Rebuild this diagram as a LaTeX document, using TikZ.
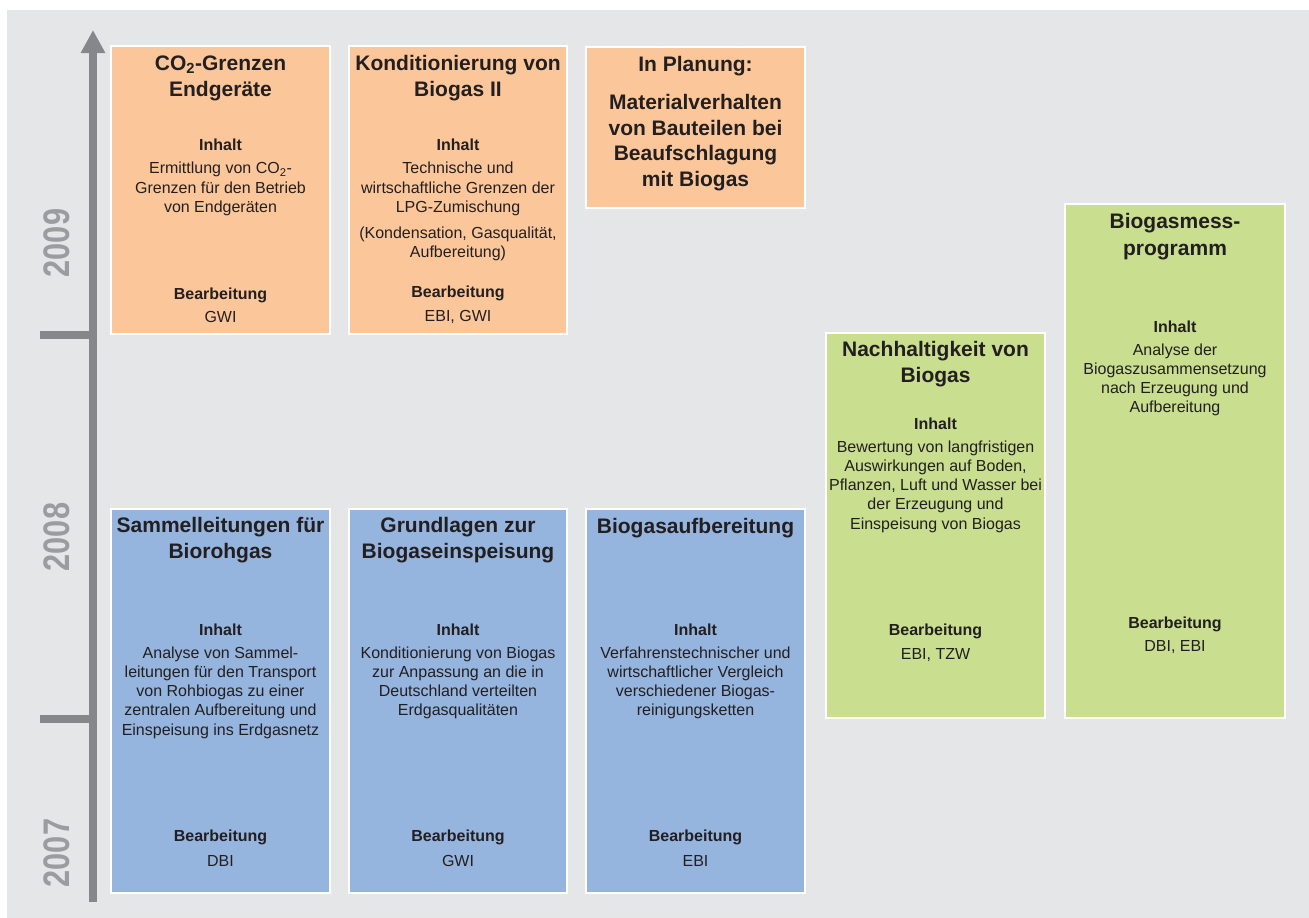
\documentclass[tikz,border=0pt]{standalone}
\usepackage{fontspec}
\setmainfont{Liberation Sans}
\usetikzlibrary{arrows.meta}
\definecolor{bg}{HTML}{E5E6E8}
\definecolor{peach}{HTML}{FBC79A}
\definecolor{skyb}{HTML}{95B4DE}
\definecolor{lgreen}{HTML}{C9DE8F}
\definecolor{axisgray}{HTML}{86878A}
\definecolor{yeargray}{HTML}{9B9C9F}
\definecolor{ink}{HTML}{231F20}
\begin{document}
\begin{tikzpicture}[x=1pt,y=-1pt,
  box/.style={draw=white, line width=2pt, inner sep=0pt, outer sep=0pt},
  ttl/.style={text=ink, align=center, inner sep=0pt, font=\fontsize{21}{26}\selectfont\bfseries},
  lbl/.style={text=ink, align=center, inner sep=0pt, font=\fontsize{16}{19.2}\selectfont\bfseries},
  txt/.style={text=ink, align=center, inner sep=0pt, font=\fontsize{16}{19.2}\selectfont},
  year/.style={text=yeargray, rotate=90, inner sep=0pt, font=\fontsize{37}{37}\selectfont\bfseries},
  tick/.style={draw=axisgray, line width=8pt}
]
\useasboundingbox (0,0) rectangle (1309,918);
\fill[bg] (7,10) rectangle (1309,918);

% axis
\coordinate (axb) at (93,902);
\coordinate (axt) at (93,30);
\draw[draw=axisgray, fill=axisgray, line width=8pt, -{Triangle[length=23pt,width=23pt]}] (axb) -- (axt);
\coordinate (t1a) at (40,334.7);
\coordinate (t1b) at (97,334.7);
\coordinate (t2a) at (40,719);
\coordinate (t2b) at (97,719);
\draw[tick] (t1a) -- (t1b);
\draw[tick] (t2a) -- (t2b);
\node[year] (y2009) at (57,243) {\scalebox{0.83}[1]{2009}};
\node[year] (y2008) at (57,537) {\scalebox{0.83}[1]{2008}};
\node[year] (y2007) at (57,853) {\scalebox{0.83}[1]{2007}};

% boxes
\node[box, fill=peach, minimum width=219pt, minimum height=288pt] (o1) at (220.5,190) {};
\node[box, fill=peach, minimum width=218pt, minimum height=288pt] (o2) at (458,190) {};
\node[box, fill=peach, minimum width=219pt, minimum height=161pt] (o3) at (695.5,127.5) {};
\node[box, fill=lgreen, minimum width=219pt, minimum height=385pt] (g4) at (935.5,525.5) {};
\node[box, fill=lgreen, minimum width=220pt, minimum height=514pt] (g5) at (1175,461) {};
\node[box, fill=skyb, minimum width=219pt, minimum height=384pt] (b1) at (220.5,701) {};
\node[box, fill=skyb, minimum width=218pt, minimum height=384pt] (b2) at (458,701) {};
\node[box, fill=skyb, minimum width=219pt, minimum height=384pt] (b3) at (695.5,701) {};

% box o1
\node[ttl] (o1t) at (220.5,78.5) {CO\textsubscript{2}-Grenzen\\Endgeräte};
\node[lbl] (o1i) at (220.5,145) {Inhalt};
\node[txt] (o1c) at (220.5,189) {Ermittlung von CO\textsubscript{2}-\\Grenzen für den Betrieb\\von Endgeräten};
\node[lbl] (o1b) at (220.5,295) {Bearbeitung};
\node[txt] (o1w) at (220.5,317) {GWI};

% box o2
\node[ttl] (o2t) at (458,78.5) {Konditionierung von\\Biogas II};
\node[lbl] (o2i) at (458,145) {Inhalt};
\node[txt] (o2c) at (458,189) {Technische und\\wirtschaftliche Grenzen der\\LPG-Zumischung};
\node[txt] (o2d) at (458,243.5) {(Kondensation, Gasqualität,\\Aufbereitung)};
\node[lbl] (o2b) at (458,293) {Bearbeitung};
\node[txt] (o2w) at (458,317) {EBI, GWI};

% box o3
\node[ttl] (o3t) at (695.5,66) {In Planung:};
\node[ttl, font=\fontsize{21}{25.7}\selectfont\bfseries] (o3c) at (695.5,142.5) {Materialverhalten\\von Bauteilen bei\\Beaufschlagung\\mit Biogas};

% box g4
\node[ttl] (g4t) at (935.5,364.5) {Nachhaltigkeit von\\Biogas};
\node[lbl] (g4i) at (935.5,424) {Inhalt};
\node[txt] (g4c) at (935.5,486.5) {Bewertung von langfristigen\\Auswirkungen auf Boden,\\Pflanzen, Luft und Wasser bei\\der Erzeugung und\\Einspeisung von Biogas};
\node[lbl] (g4b) at (935.5,631) {Bearbeitung};
\node[txt] (g4w) at (935.5,655) {EBI, TZW};

% box g5
\node[ttl, font=\fontsize{21}{27}\selectfont\bfseries] (g5t) at (1175,236.5) {Biogasmess-\\programm};
\node[lbl] (g5i) at (1175,327) {Inhalt};
\node[txt] (g5c) at (1175,380) {Analyse der\\Biogaszusammensetzung\\nach Erzeugung und\\Aufbereitung};
\node[lbl] (g5b) at (1175,624) {Bearbeitung};
\node[txt] (g5w) at (1175,647) {DBI, EBI};

% box b1
\node[ttl] (b1t) at (220.5,540.5) {Sammelleitungen für\\Biorohgas};
\node[lbl] (b1i) at (220.5,630) {Inhalt};
\node[txt] (b1c) at (220.5,692.5) {Analyse von Sammel-\\leitungen für den Transport\\von Rohbiogas zu einer\\zentralen Aufbereitung und\\Einspeisung ins Erdgasnetz};
\node[lbl] (b1b) at (220.5,837) {Bearbeitung};
\node[txt] (b1w) at (220.5,861) {DBI};

% box b2
\node[ttl] (b2t) at (458,540.5) {Grundlagen zur\\Biogaseinspeisung};
\node[lbl] (b2i) at (458,630) {Inhalt};
\node[txt] (b2c) at (458,683) {Konditionierung von Biogas\\zur Anpassung an die in\\Deutschland verteilten\\Erdgasqualitäten};
\node[lbl] (b2b) at (458,837) {Bearbeitung};
\node[txt] (b2w) at (458,861) {GWI};

% box b3
\node[ttl] (b3t) at (695.5,528) {Biogasaufbereitung};
\node[lbl] (b3i) at (695.5,630) {Inhalt};
\node[txt] (b3c) at (695.5,683) {Verfahrenstechnischer und\\wirtschaftlicher Vergleich\\verschiedener Biogas-\\reinigungsketten};
\node[lbl] (b3b) at (695.5,837) {Bearbeitung};
\node[txt] (b3w) at (695.5,861) {EBI};
\end{tikzpicture}
\end{document}
